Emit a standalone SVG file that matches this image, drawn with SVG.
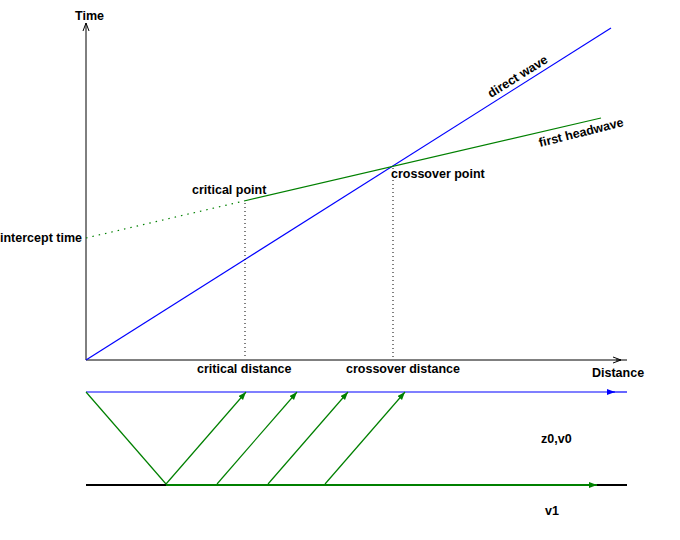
<svg xmlns="http://www.w3.org/2000/svg" width="680" height="540" viewBox="0 0 680 540">
<style>
text{font-family:"Liberation Sans",Arial,sans-serif;font-size:12.5px;font-weight:bold;fill:#000}
.ax{stroke:#000;stroke-width:1;fill:none}
.bl{stroke:#0000ff;stroke-width:1.2;fill:none}
.gr{stroke:#008000;stroke-width:1.2;fill:none}
.dot{stroke:#000;stroke-width:1;stroke-dasharray:1,3;fill:none}
</style>
<defs>
<marker id="ak" markerUnits="userSpaceOnUse" markerWidth="10" markerHeight="8" refX="8" refY="4" orient="auto"><path d="M0,1 L8,4 L0,7" fill="none" stroke="#000" stroke-width="1"/></marker>
<marker id="ab" markerUnits="userSpaceOnUse" markerWidth="10" markerHeight="8" refX="8" refY="3" orient="auto"><path d="M0,0 L8,3 L0,6 Z" fill="#0000ff"/></marker>
<marker id="ag" markerUnits="userSpaceOnUse" markerWidth="10" markerHeight="8" refX="8" refY="3" orient="auto"><path d="M0,0 L8,3 L0,6 Z" fill="#008000"/></marker>
</defs>
<rect width="680" height="540" fill="#fff"/>
<g id="connectors">
<line class="ax" x1="86" y1="360" x2="86" y2="23" marker-end="url(#ak)"/>
<line class="ax" x1="86" y1="360" x2="621" y2="360" marker-end="url(#ak)"/>
<line class="ax" x1="616" y1="360" x2="627" y2="360"/>
<line class="bl" x1="86" y1="360" x2="611" y2="28"/>
<line class="gr" x1="244" y1="201" x2="601" y2="118"/>
<line class="gr" x1="86" y1="238" x2="244" y2="201" stroke-dasharray="1.5,5"/>
<line class="dot" x1="245" y1="203" x2="245" y2="359"/>
<line class="dot" x1="393" y1="168" x2="393" y2="359"/>
<line class="bl" x1="86" y1="392" x2="615" y2="392" marker-end="url(#ab)"/>
<line class="bl" x1="610" y1="392" x2="627" y2="392"/>
<line x1="86" y1="485" x2="627" y2="485" stroke="#000" stroke-width="2"/>
<line x1="166" y1="485" x2="597" y2="485" stroke="#008000" stroke-width="2" marker-end="url(#ag)"/>
<line class="gr" x1="86" y1="392" x2="166" y2="484"/>
<line class="gr" x1="166" y1="484" x2="246" y2="392" marker-end="url(#ag)"/>
<line class="gr" x1="217" y1="484" x2="297" y2="392" marker-end="url(#ag)"/>
<line class="gr" x1="268" y1="484" x2="348" y2="392" marker-end="url(#ag)"/>
<line class="gr" x1="325" y1="484" x2="405" y2="392" marker-end="url(#ag)"/>
</g>
<g id="labels">
<text x="75" y="20">Time</text>
<text x="0" y="242">intercept time</text>
<text x="192" y="194">critical point</text>
<text x="391" y="178">crossover point</text>
<text x="197" y="373">critical distance</text>
<text x="346" y="373">crossover distance</text>
<text x="592" y="377">Distance</text>
<text transform="translate(491,98) rotate(-32)">direct wave</text>
<text transform="translate(540,147) rotate(-14)">first headwave</text>
<text x="541" y="443">z0,v0</text>
<text x="545" y="515">v1</text>
</g>
</svg>
